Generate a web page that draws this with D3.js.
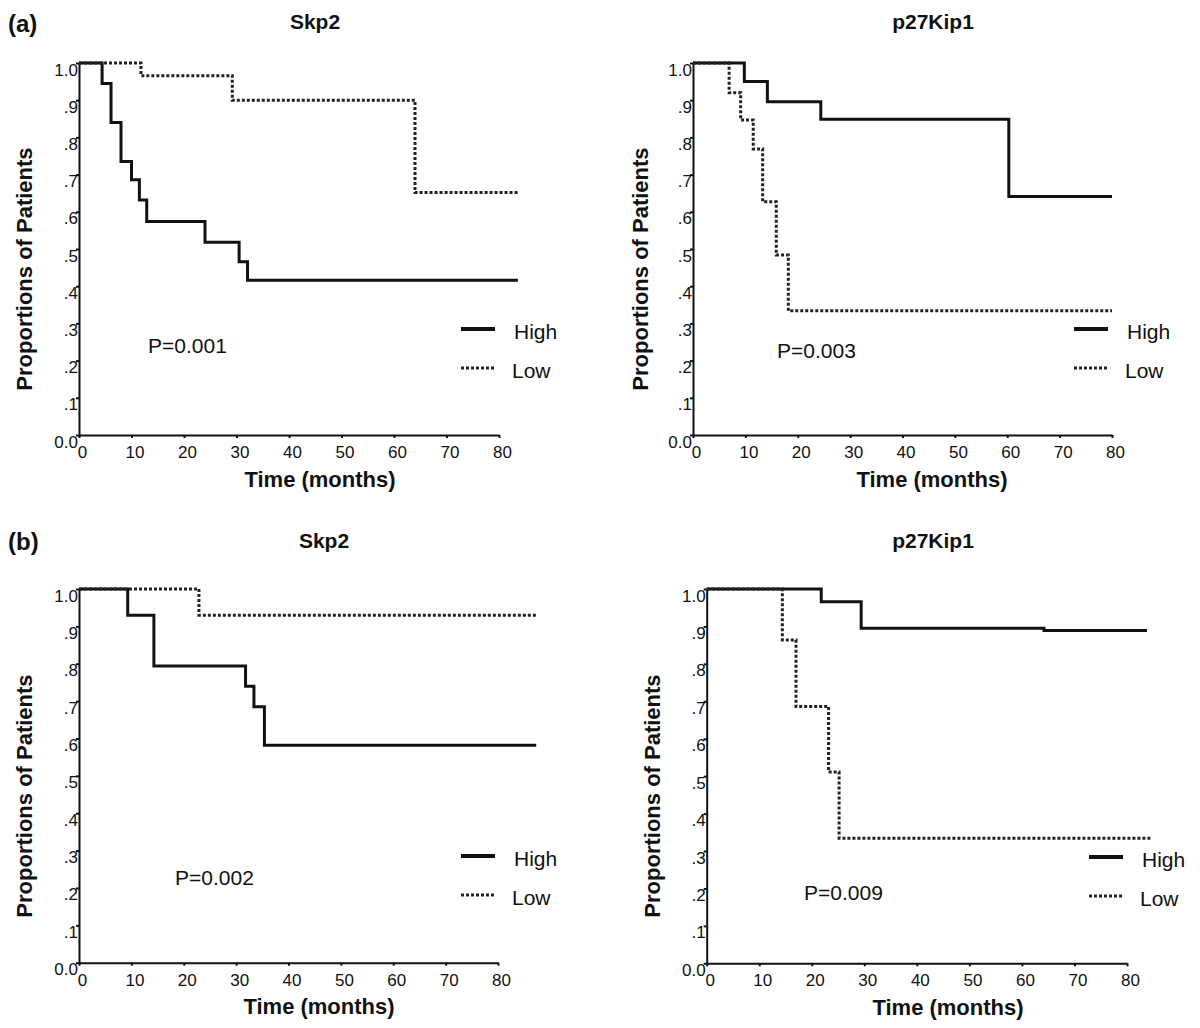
<!DOCTYPE html>
<head>
  <meta charset="utf-8">
  <title>Skp2 / p27Kip1 survival</title>
  <style>
  body { margin: 0; background: #fff; }
  svg { font-family: "Liberation Sans", Arial, sans-serif; }
  .panelTag { font-size: 24px; font-weight: bold; fill: #111; }
  .title { font-size: 21px; font-weight: bold; fill: #111; }
  .axisLabel { font-size: 22px; font-weight: bold; fill: #111; }
  .pval, .legendText { font-size: 21px; fill: #111; }
  .axis path, .axis line { stroke: #111; stroke-width: 2; }
  .axis text { font-size: 17px; fill: #111; font-family: "Liberation Sans", Arial, sans-serif; }
  .km { fill: none; stroke: #111; stroke-width: 3; }
  .km.low { stroke-dasharray: 3,2; stroke: #222; }
  </style>
</head>
<body>
<script src="https://cdn.jsdelivr.net/npm/d3@7"></script>
<script>
  // event times (months) and survival proportions
  const aSkp2HighTime = [0, 4.4, 6.1, 8.0, 10.0, 11.5, 12.9, 24.0, 30.5, 32.1, 83.6];
  const aSkp2HighSurv = [1, 0.945, 0.840, 0.735, 0.686, 0.632, 0.574, 0.518, 0.466, 0.416, 0.416];
  const aSkp2LowTime  = [0, 11.8, 29.2, 64.0, 83.6];
  const aSkp2LowSurv  = [1, 0.966, 0.900, 0.652, 0.652];

  const aKipHighTime = [0, 9.8, 14.2, 24.4, 60.3, 80];
  const aKipHighSurv = [1, 0.950, 0.896, 0.849, 0.641, 0.641];
  const aKipLowTime  = [0, 6.9, 9.1, 11.5, 13.3, 15.9, 18.2, 80];
  const aKipLowSurv  = [1, 0.920, 0.847, 0.769, 0.627, 0.484, 0.334, 0.334];

  const bSkp2HighTime = [0, 9.3, 14.3, 31.8, 33.4, 35.4, 87.3];
  const bSkp2HighSurv = [1, 0.930, 0.794, 0.740, 0.685, 0.582, 0.582];
  const bSkp2LowTime  = [0, 22.9, 87.5];
  const bSkp2LowSurv  = [1, 0.930, 0.930];

  const bKipHighTime = [0, 21.8, 29.4, 64.2, 83.8];
  const bKipHighSurv = [1, 0.966, 0.895, 0.889, 0.889];
  const bKipLowTime  = [0, 14.4, 17.0, 23.2, 25.2, 84.7];
  const bKipLowSurv  = [1, 0.864, 0.686, 0.511, 0.334, 0.334];

  const xTicks = [0, 10, 20, 30, 40, 50, 60, 70, 80];
  const yTicks = [0, 0.1, 0.2, 0.3, 0.4, 0.5, 0.6, 0.7, 0.8, 0.9, 1.0];
  const seriesNames = ["High", "Low"];

  const zip = (t, s) => t.map((d, i) => ({ t: d, s: s[i] }));

  // layout of each panel on the page
  const panels = [
    { title: "Skp2", tag: "(a)", p: "P=0.001", high: zip(aSkp2HighTime, aSkp2HighSurv), low: zip(aSkp2LowTime, aSkp2LowSurv),
      x: [79, 499], y: [435, 63], titleX: 315, titleY: 29, tagY: 32, yLabX: 24, yLabY: 269, xLabX: 320, xLabY: 487,
      pX: 148, pY: 353, legX: 461, legY: 329 },
    { title: "p27Kip1", p: "P=0.003", high: zip(aKipHighTime, aKipHighSurv), low: zip(aKipLowTime, aKipLowSurv),
      x: [693, 1112], y: [435, 63], titleX: 933, titleY: 29, yLabX: 640, yLabY: 269, xLabX: 932, xLabY: 487,
      pX: 777, pY: 358, legX: 1074, legY: 329 },
    { title: "Skp2", tag: "(b)", p: "P=0.002", high: zip(bSkp2HighTime, bSkp2HighSurv), low: zip(bSkp2LowTime, bSkp2LowSurv),
      x: [79, 498], y: [962.7, 589], titleX: 324, titleY: 548, tagY: 550, yLabX: 24, yLabY: 796, xLabX: 319, xLabY: 1014,
      pX: 175, pY: 885, legX: 461, legY: 856 },
    { title: "p27Kip1", p: "P=0.009", high: zip(bKipHighTime, bKipHighSurv), low: zip(bKipLowTime, bKipLowSurv),
      x: [706.7, 1127], y: [963.3, 589], titleX: 933, titleY: 548, yLabX: 652, yLabY: 796, xLabX: 948, xLabY: 1015,
      pX: 804, pY: 900, legX: 1089, legY: 857 }
  ];

  const svg = d3.select("body").append("svg")
    .attr("width", 1200)
    .attr("height", 1028);

  const yFmt = d => d === 0 ? "0.0" : d === 1 ? "1.0" : "." + Math.round(d * 10);

  panels.forEach(cfg => {
    let xScale = d3.scaleLinear().domain([0, 80]).range(cfg.x);
    let yScale = d3.scaleLinear().domain([0, 1]).range(cfg.y);
    let g = svg.append("g");

    if (cfg.tag) {
      g.append("text").attr("class", "panelTag")
        .attr("x", 8).attr("y", cfg.tagY).text(cfg.tag);
    }
    g.append("text").attr("class", "title")
      .attr("x", cfg.titleX).attr("y", cfg.titleY)
      .attr("text-anchor", "middle").text(cfg.title);

    // axes
    let xAxis = d3.axisBottom(xScale).tickValues(xTicks).tickSize(3).tickSizeOuter(0).tickPadding(8);
    let yAxis = d3.axisLeft(yScale).tickValues(yTicks).tickFormat(yFmt).tickSize(3).tickSizeOuter(0).tickPadding(0);

    let gx = g.append("g").attr("class", "axis")
      .attr("transform", `translate(0,${cfg.y[0]})`)
      .call(xAxis);
    gx.selectAll(".tick text").attr("dx", 3);

    let gy = g.append("g").attr("class", "axis")
      .attr("transform", `translate(${cfg.x[0]},0)`)
      .call(yAxis);
    gy.selectAll(".tick text").attr("x", -1).attr("dy", 12);

    g.append("text").attr("class", "axisLabel")
      .attr("transform", `translate(${cfg.yLabX},${cfg.yLabY}) rotate(-90)`)
      .attr("text-anchor", "middle").attr("dy", "0.35em")
      .text("Proportions of Patients");
    g.append("text").attr("class", "axisLabel")
      .attr("x", cfg.xLabX).attr("y", cfg.xLabY)
      .attr("text-anchor", "middle").text("Time (months)");

    // step curves
    let line = d3.line()
      .x(d => xScale(d.t))
      .y(d => yScale(d.s))
      .curve(d3.curveStepAfter);

    g.append("path").attr("class", "km high").attr("d", line(cfg.high));
    g.append("path").attr("class", "km low").attr("d", line(cfg.low));

    g.append("text").attr("class", "pval")
      .attr("x", cfg.pX).attr("y", cfg.pY).text(cfg.p);

    // legend
    seriesNames.forEach((name, i) => {
      let ly = cfg.legY + i * 39;
      g.append("line")
        .attr("class", "km " + name.toLowerCase())
        .attr("x1", cfg.legX).attr("x2", cfg.legX + 34)
        .attr("y1", ly).attr("y2", ly)
        .style("stroke-width", name === "High" ? 4 : 3);
      g.append("text").attr("class", "legendText")
        .attr("x", cfg.legX + 53 - i * 2).attr("y", ly + 10)
        .text(name);
    });
  });
</script>
</body>
